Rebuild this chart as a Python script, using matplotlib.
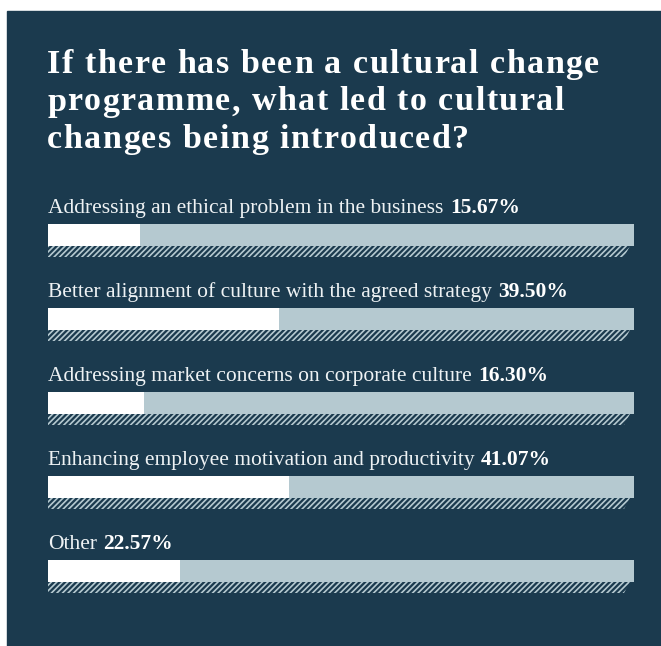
import matplotlib
matplotlib.use('Agg')
import matplotlib.pyplot as plt
from matplotlib.patches import Rectangle, Polygon
from matplotlib.textpath import TextToPath
from matplotlib.font_manager import FontProperties

# survey answers and shares (%)
categories = [
    'Addressing an ethical problem in the business',
    'Better alignment of culture with the agreed strategy',
    'Addressing market concerns on corporate culture',
    'Enhancing employee motivation and productivity',
    'Other',
]
shares = [15.67, 39.50, 16.30, 41.07, 22.57]
title_lines = [
    'If there has been a cultural change',
    'programme, what led to cultural',
    'changes being introduced?',
]

NAVY = '#1b3a4e'
LIGHT = '#b5c9d0'
TXT = '#eef2f4'
W, H, DPI = 661, 646, 100

plt.rcParams['hatch.linewidth'] = 1.2

fig = plt.figure(figsize=(W / DPI, H / DPI), dpi=DPI, facecolor='white')

# pixel-space layer for the panel and the title
bg = fig.add_axes([0, 0, 1, 1])
bg.set_xlim(0, W)
bg.set_ylim(H, 0)
bg.axis('off')
bg.add_patch(Rectangle((7, 11), W - 7, H - 11, color=NAVY, zorder=0))

t2p = TextToPath()


def text_width_px(s, fp):
    w, h, d = t2p.get_text_width_height_descent(s, fp, ismath=False)
    return w * DPI / 72


def spaced_text(ax, x, y, s, fp, track, **kw):
    # letter-spaced text: every glyph placed on its own
    for i, ch in enumerate(s):
        xi = x + text_width_px(s[:i], fp) + i * track
        ax.text(xi, y, ch, fontproperties=fp, va='baseline', ha='left', **kw)


title_fp = FontProperties(family='Liberation Serif', weight='bold', size=24.5)
first_w = text_width_px(title_lines[0], title_fp)
track = (552 - first_w) / (len(title_lines[0]) - 1)
for k, line in enumerate(title_lines):
    spaced_text(bg, 47, 73 + 37.5 * k, line, title_fp, track, color='white')

# bars: x in percent, y in rows (84 px per row)
ax = fig.add_axes([48 / W, 1 - 613 / H, 586 / W, 420 / H])
ax.set_xlim(0, 100)
ax.set_ylim(len(categories) - 0.5, -0.5)
ax.axis('off')

row_px = 84
bar_h = 22 / row_px
hatch_h = 11 / row_px
px = 100 / 586
rows = list(range(len(categories)))

ax.barh(rows, [100] * len(rows), height=bar_h, color=LIGHT, linewidth=0)
ax.barh(rows, shares, height=bar_h, color='white', linewidth=0)

lab_fp = FontProperties(family='Liberation Serif', size=15.5)
num_fp = FontProperties(family='Liberation Serif', weight='bold', size=15.5)

for i, (cat, val) in enumerate(zip(categories, shares)):
    top = i + bar_h / 2
    # striped shadow under each bar, slanted on the right end
    ax.add_patch(Polygon([(0, top), (100 - 4 * px, top),
                          (100 - 10 * px, top + hatch_h), (0, top + hatch_h)],
                         closed=True, facecolor=NAVY, edgecolor=LIGHT,
                         linewidth=0, hatch='//////'))
    base = i - bar_h / 2 - 11 / row_px
    ax.text(0, base, cat, fontproperties=lab_fp, color=TXT, va='baseline', ha='left')
    off = (text_width_px(cat, lab_fp) + 6) * px
    ax.text(off, base, f'{val:.2f}%', fontproperties=num_fp, color='white',
            va='baseline', ha='left')

fig.savefig('out.png', dpi=DPI, facecolor='white')
